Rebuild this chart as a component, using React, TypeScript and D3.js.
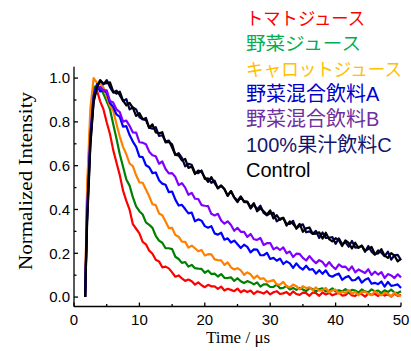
import React from "react";
import * as d3 from "d3";

// sampling grid (µs)
const time: number[] = [1.7, ...d3.range(2, 50.25, 0.5)];

const seriesNames = ["トマトジュース", "野菜ジュース", "キャロットジュース", "野菜混合飲料A", "野菜混合飲料B", "100%果汁飲料C", "Control"];
const lineColors = ["#ff0000", "#008000", "#ff8000", "#0000ff", "#8000ff", "#000050", "#000000"];
const legendColors = ["#ff0000", "#00b050", "#ffc000", "#0000cc", "#7030a0", "#141470", "#000000"];
const legendWidths = [119, 115, 156, 0, 0, 0, 0];

const tomato = [0,
  0.46, 0.80, 0.96, 0.944, 0.894, 0.858, 0.798, 0.745, 0.671, 0.613,
  0.557, 0.486, 0.439, 0.399, 0.333, 0.312, 0.291, 0.252, 0.241, 0.212,
  0.198, 0.17, 0.163, 0.136, 0.139, 0.131, 0.113, 0.093, 0.099, 0.085,
  0.074, 0.08, 0.072, 0.057, 0.067, 0.054, 0.045, 0.056, 0.049, 0.049,
  0.037, 0.048, 0.03, 0.038, 0.033, 0.027, 0.039, 0.022, 0.031, 0.023,
  0.03, 0.014, 0.026, 0.022, 0.016, 0.027, 0.012, 0.022, 0.027, 0.014,
  0.017, 0.023, 0.01, 0.026, 0.014, 0.01, 0.02, 0.018, 0.006, 0.021,
  0.018, 0.006, 0.021, 0.012, 0.019, 0.008, 0.014, 0.021, 0.007, 0.009,
  0.021, 0.008, 0.005, 0.018, 0.013, 0.002, 0.016, 0.01, 0.015, 0.005,
  0.018, 0.007, 0.012, 0.002, 0.016, 0.005, 0.011];

const vegetable = [0,
  0.42, 0.78, 0.96, 0.961, 0.957, 0.928, 0.894, 0.858, 0.789, 0.723,
  0.652, 0.595, 0.537, 0.509, 0.456, 0.414, 0.392, 0.377, 0.341, 0.33,
  0.316, 0.28, 0.258, 0.248, 0.223, 0.223, 0.219, 0.184, 0.174, 0.156,
  0.16, 0.139, 0.147, 0.132, 0.13, 0.129, 0.111, 0.121, 0.105, 0.107,
  0.094, 0.105, 0.088, 0.087, 0.09, 0.074, 0.086, 0.072, 0.064, 0.073,
  0.067, 0.058, 0.067, 0.048, 0.058, 0.058, 0.046, 0.047, 0.057, 0.04,
  0.042, 0.051, 0.035, 0.042, 0.033, 0.042, 0.035, 0.027, 0.041, 0.037,
  0.025, 0.037, 0.04, 0.026, 0.029, 0.04, 0.026, 0.031, 0.026, 0.036,
  0.023, 0.033, 0.03, 0.02, 0.035, 0.026, 0.022, 0.035, 0.026, 0.03,
  0.018, 0.031, 0.023, 0.034, 0.021, 0.019, 0.027];

const carrot = [0,
  0.5, 0.86, 1.0, 0.979, 0.975, 0.957, 0.918, 0.872, 0.851, 0.79,
  0.733, 0.686, 0.652, 0.61, 0.598, 0.556, 0.524, 0.522, 0.491, 0.46,
  0.424, 0.42, 0.382, 0.374, 0.345, 0.315, 0.316, 0.283, 0.276, 0.253,
  0.252, 0.226, 0.235, 0.223, 0.209, 0.215, 0.19, 0.196, 0.195, 0.172,
  0.169, 0.168, 0.147, 0.158, 0.136, 0.126, 0.132, 0.122, 0.102, 0.113,
  0.104, 0.085, 0.098, 0.083, 0.086, 0.07, 0.073, 0.078, 0.058, 0.057,
  0.069, 0.05, 0.044, 0.057, 0.05, 0.035, 0.05, 0.041, 0.045, 0.031,
  0.044, 0.029, 0.032, 0.042, 0.022, 0.03, 0.034, 0.015, 0.025, 0.019,
  0.032, 0.015, 0.024, 0.008, 0.024, 0.025, 0.015, 0.008, 0.027, 0.015,
  0.008, 0.02, 0.016, 0.003, 0.021, 0.008, 0.006];

const mixA = [0,
  0.38, 0.74, 0.92, 0.972, 0.939, 0.945, 0.934, 0.886, 0.868, 0.834,
  0.823, 0.778, 0.781, 0.74, 0.71, 0.686, 0.641, 0.639, 0.602, 0.593,
  0.566, 0.569, 0.534, 0.518, 0.513, 0.479, 0.482, 0.445, 0.418, 0.421,
  0.402, 0.382, 0.386, 0.346, 0.355, 0.349, 0.324, 0.317, 0.324, 0.291,
  0.285, 0.294, 0.262, 0.268, 0.249, 0.258, 0.241, 0.224, 0.239, 0.229,
  0.204, 0.218, 0.217, 0.191, 0.191, 0.202, 0.174, 0.179, 0.166, 0.176,
  0.151, 0.163, 0.154, 0.133, 0.154, 0.136, 0.126, 0.143, 0.125, 0.128,
  0.107, 0.123, 0.106, 0.122, 0.099, 0.093, 0.102, 0.107, 0.079, 0.09,
  0.096, 0.076, 0.078, 0.091, 0.066, 0.079, 0.086, 0.061, 0.065, 0.059,
  0.071, 0.048, 0.069, 0.051, 0.054, 0.058, 0.042];

const mixB = [0,
  0.38, 0.72, 0.9, 0.955, 0.96, 0.944, 0.944, 0.895, 0.888, 0.857,
  0.845, 0.801, 0.806, 0.782, 0.752, 0.751, 0.707, 0.705, 0.698, 0.664,
  0.648, 0.643, 0.609, 0.619, 0.585, 0.565, 0.566, 0.548, 0.511, 0.52,
  0.5, 0.467, 0.476, 0.449, 0.448, 0.42, 0.417, 0.415, 0.38, 0.373,
  0.38, 0.35, 0.335, 0.346, 0.329, 0.303, 0.316, 0.298, 0.298, 0.275,
  0.288, 0.264, 0.261, 0.27, 0.238, 0.246, 0.247, 0.218, 0.227, 0.215,
  0.227, 0.2, 0.208, 0.183, 0.198, 0.197, 0.179, 0.167, 0.187, 0.169,
  0.155, 0.169, 0.16, 0.14, 0.16, 0.141, 0.128, 0.149, 0.138, 0.139,
  0.122, 0.14, 0.113, 0.126, 0.118, 0.11, 0.127, 0.101, 0.116, 0.103,
  0.114, 0.087, 0.105, 0.099, 0.087, 0.104, 0.09];

const juiceC = [0,
  0.35, 0.7, 0.9, 0.958, 0.99, 0.971, 0.991, 0.959, 0.934, 0.943,
  0.922, 0.895, 0.904, 0.857, 0.866, 0.857, 0.822, 0.811, 0.818, 0.773,
  0.769, 0.776, 0.736, 0.739, 0.71, 0.715, 0.683, 0.649, 0.657, 0.636,
  0.597, 0.608, 0.604, 0.568, 0.566, 0.578, 0.54, 0.542, 0.522, 0.532,
  0.496, 0.508, 0.492, 0.462, 0.484, 0.456, 0.44, 0.46, 0.434, 0.434,
  0.404, 0.423, 0.4, 0.417, 0.384, 0.373, 0.382, 0.385, 0.346, 0.357,
  0.362, 0.334, 0.334, 0.348, 0.312, 0.326, 0.332, 0.296, 0.3, 0.289,
  0.302, 0.27, 0.295, 0.27, 0.271, 0.274, 0.243, 0.268, 0.241, 0.251,
  0.23, 0.256, 0.226, 0.227, 0.235, 0.207, 0.233, 0.207, 0.193, 0.213,
  0.203, 0.187, 0.207, 0.171, 0.191, 0.193, 0.169];

const control = [0,
  0.33, 0.69, 0.89, 0.956, 0.99, 0.975, 0.977, 0.981, 0.938, 0.929,
  0.938, 0.897, 0.876, 0.887, 0.864, 0.827, 0.84, 0.813, 0.808, 0.773,
  0.789, 0.752, 0.748, 0.753, 0.706, 0.709, 0.697, 0.649, 0.647, 0.624,
  0.631, 0.59, 0.596, 0.562, 0.578, 0.572, 0.546, 0.526, 0.548, 0.52,
  0.498, 0.51, 0.494, 0.464, 0.484, 0.454, 0.434, 0.456, 0.438, 0.436,
  0.41, 0.429, 0.392, 0.405, 0.392, 0.377, 0.396, 0.359, 0.374, 0.353,
  0.362, 0.326, 0.346, 0.334, 0.316, 0.334, 0.298, 0.314, 0.318, 0.289,
  0.29, 0.296, 0.267, 0.294, 0.265, 0.254, 0.269, 0.26, 0.233, 0.259,
  0.248, 0.222, 0.248, 0.225, 0.235, 0.211, 0.219, 0.229, 0.197, 0.199,
  0.219, 0.189, 0.179, 0.201, 0.189, 0.163, 0.175];

const seriesValues = [tomato, vegetable, carrot, mixA, mixB, juiceC, control];

const xMajorTicks = [0, 10, 20, 30, 40, 50];
const xMinorTicks = [5, 15, 25, 35, 45];
const yMajorTicks = [0, 0.2, 0.4, 0.6, 0.8, 1.0];
const yMinorTicks = [0.1, 0.3, 0.5, 0.7, 0.9];

const W = 411;
const H = 351;
const sansFont = "'Liberation Sans', Arial, 'Noto Sans CJK JP', sans-serif";
const serifFont = "'Liberation Serif', 'Times New Roman', serif";

export default function App() {
  const x = d3.scaleLinear().domain([0, 50]).range([74, 401]);
  const y = d3.scaleLinear().domain([-0.043, 1.052]).range([306.5, 66.7]);
  const line = d3
    .line<[number, number]>()
    .x((d) => x(d[0]))
    .y((d) => y(d[1]));

  const y0 = y.domain()[0];
  const y1 = y.domain()[1];

  return (
    <svg
      width={W}
      height={H}
      style={{ position: "absolute", left: 0, top: 0, background: "#fff" }}
    >
      <rect x={0} y={0} width={W} height={H} fill="#fff" />
      {/* curves */}
      <g fill="none" strokeLinejoin="round">
        {seriesValues.map((vals, si) => {
          const pts: [number, number][] = vals
            .map((v, i) => [time[i], v] as [number, number])
            .filter((p) => p[0] !== undefined);
          return (
            <path
              key={si}
              d={line(pts) || ""}
              stroke={lineColors[si]}
              strokeWidth={2.2}
            />
          );
        })}
      </g>

      {/* axes */}
      <g stroke="#000" strokeWidth={1.3} fill="none">
        <line x1={x(0)} x2={x(0)} y1={y(y0)} y2={y(y1)} />
        <line x1={x(0)} x2={x(50)} y1={y(y0)} y2={y(y0)} />
        {yMajorTicks.map((t) => (
          <line key={"ym" + t} x1={x(0)} x2={x(0) + 4} y1={y(t)} y2={y(t)} />
        ))}
        {yMinorTicks.map((t) => (
          <line key={"yn" + t} x1={x(0)} x2={x(0) + 2.5} y1={y(t)} y2={y(t)} />
        ))}
        {xMajorTicks.map((t) => (
          <line key={"xm" + t} x1={x(t)} x2={x(t)} y1={y(y0)} y2={y(y0) - 4} />
        ))}
        {xMinorTicks.map((t) => (
          <line key={"xn" + t} x1={x(t)} x2={x(t)} y1={y(y0)} y2={y(y0) - 2.5} />
        ))}
      </g>

      {/* tick labels */}
      <g fontFamily={sansFont} fontSize={15} fill="#000">
        {yMajorTicks.map((t) => (
          <text key={"yl" + t} x={70} y={y(t)} dy="0.35em" textAnchor="end">
            {d3.format(".1f")(t)}
          </text>
        ))}
        {xMajorTicks.map((t) => (
          <text key={"xl" + t} x={x(t)} y={325} textAnchor="middle">
            {t}
          </text>
        ))}
      </g>

      {/* axis titles */}
      <text
        x={238}
        y={343}
        textAnchor="middle"
        fontFamily={serifFont}
        fontSize={17}
        fill="#000"
      >
        Time / μs
      </text>
      <text
        transform={`translate(32,181) rotate(-90)`}
        textAnchor="middle"
        fontFamily={serifFont}
        fontSize={18}
        fill="#000"
        textLength={178}
        lengthAdjust="spacingAndGlyphs"
      >
        Normalized Intensity
      </text>

      {/* legend */}
      <g fontFamily={sansFont}>
        {seriesNames.map((name, i) => (
          <text
            key={name}
            x={246}
            y={25 + i * 25.3}
            fill={legendColors[i]}
            fontSize={legendWidths[i] > 0 ? 18 : 20}
            {...(legendWidths[i] > 0
              ? { textLength: legendWidths[i], lengthAdjust: "spacingAndGlyphs" }
              : {})}
          >
            {name}
          </text>
        ))}
      </g>
    </svg>
  );
}
